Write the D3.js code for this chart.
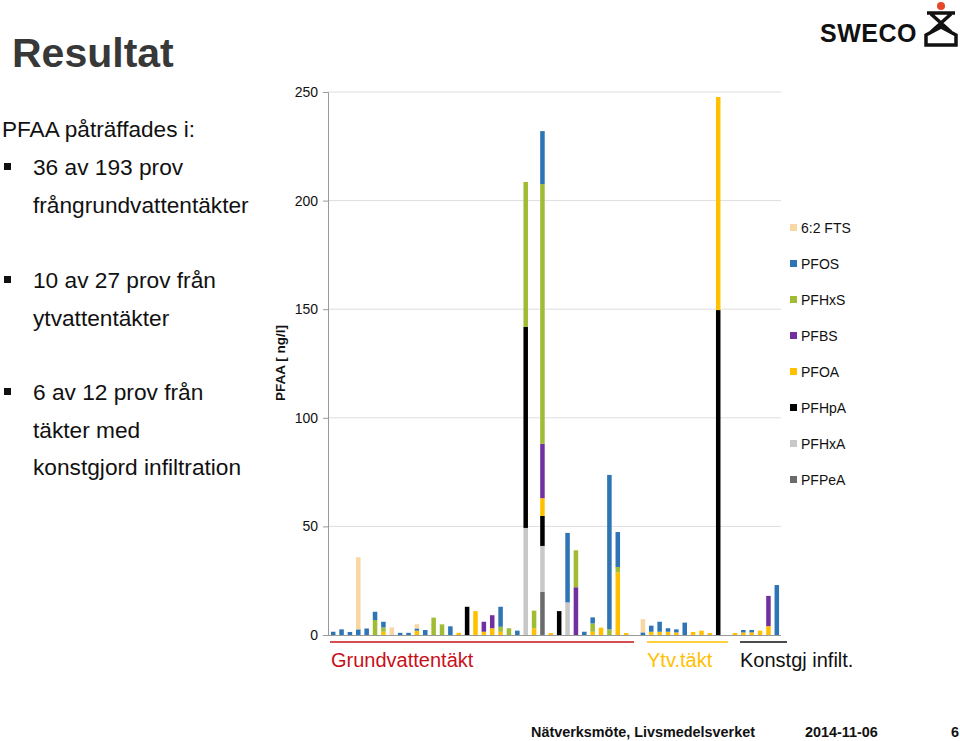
<!DOCTYPE html>
<html><head><meta charset="utf-8">
<script src="https://cdn.jsdelivr.net/npm/d3@7"></script>
<style>body{margin:0;background:#fff}svg{display:block;font-family:"Liberation Sans",Arial,sans-serif}</style>
</head><body>
<svg id="c" width="960" height="741"></svg>
<script>
// ---- data ----
const samples = d3.range(1, 55).map(String);
const seriesNames = ["PFPeA","PFHxA","PFHpA","PFOA","PFBS","PFHxS","PFOS","6:2 FTS"];
const legendOrder = ["6:2 FTS","PFOS","PFHxS","PFBS","PFOA","PFHpA","PFHxA","PFPeA"];
const colors = {"6:2 FTS":"#F9D7A3","PFOS":"#2E75B6","PFHxS":"#A0BC35","PFBS":"#7030A0","PFOA":"#FFC000","PFHpA":"#000000","PFHxA":"#C8C8C8","PFPeA":"#6B6B6B"};
const PFPeA = [0,   0,   0,   0,   0,   0,   0,   0,   0,   0,   0,   0,   0,   0,   0,   0,   0,   0,   0,   0,   0,   0,   0,   0,   0,   19.8,0,   0,   0,   0,   0,   0,   0,   0,   0,   0,  0,   0,   0,   0,   0,   0,   0,   0,   0,   0,   0,   0,  0,   0,   0,   0,   0,   0];
const PFHxA = [0,   0,   0,   0,   0,   0,   0,   0,   0,   0,   0,   0,   0,   0,   0,   0,   0,   0,   0,   0,   0,   0,   0,   49.3,0,   21.2,0,   0,   15,  0,   0,   0,   0,   0,   0,   0,  0,   0,   0,   0,   0,   0,   0,   0,   0,   0,   0,   0,  0,   0,   0,   0,   0,   0];
const PFHpA = [0,   0,   0,   0,   0,   0,   0,   0,   0,   0,   0,   0,   0,   0,   0,   0,   13,  0,   0,   0,   0,   0,   0,   92.5,0,   13.8,0,   11,  0,   0,   0,   0,   0,   0,   0,   0,  0,   0,   0,   0,   0,   0,   0,   0,   0,   0,   149.6,0, 0,   0,   0,   0,   0,   0];
const PFOA  = [0,   0,   0,   0,   0,   0,   1.5, 0,   0,   0,   2,   0,   0,   0,   0,   1,   0,   11,  1.5, 3.1, 1.5, 0,   0,   0,   3.1, 8.2, 0.9, 0,   0,   0,   0,   1.5, 3.4, 0,   28.8,0.9,0,   0,   1.5, 1.5, 1.5, 1.2, 0,   1.4, 2,   0.9, 98.1,0,  0.9, 1.2, 1.2, 2,   4.1, 0];
const PFBS  = [0,   0,   0,   0,   0,   0,   0,   0,   0,   0,   0,   0,   0,   0,   0,   0,   0,   0,   4.6, 6,   0,   0,   0,   0,   0,   25,  0,   0,   0,   22,  0,   0,   0,   0,   0,   0,  0,   0,   0,   0,   0,   0,   0,   0,   0,   0,   0,   0,  0,   0,   0,   0,   13.9,0];
const PFHxS = [0,   0,   0,   0,   0,   6.9, 2,   0,   0,   0,   0,   0,   8,   4.9, 0,   0,   0,   0,   0,   0,   2.3, 3.1, 0,   66.8,8.1, 119.6,0,  0,   0,   17,  0,   3.8, 0,   2.6, 2.5, 0,  0,   0,   0,   0,   0,   0,   0,   0,   0,   0,   0,   0,  0,   0,   0,   0,   0,   0];
const PFOS  = [1.5, 2.6, 1.4, 2.6, 3,   3.8, 2.6, 0,   1,   1,   1,   2.3, 0,   0,   4,   0,   0,   0,   0,   0,   9.2, 0,   2,   0,   0,   24.4,0,   0,   32,  0,   1.5, 2.8, 0,   71.1,16.1,0,  0,   1.2, 2.8, 4.6, 1.6, 1.4, 5.7, 0,   0,   0,   0,   0,  0,   1.1, 1.1, 0,   0,   23];
const FTS62 = [0,   0,   0,   33.2,0,   0,   0,   3.5, 0,   0,   2,   0,   0,   0,   0,   0,   0,   0,   0,   0,   0,   0,   0,   0,   0,   0,   0,   0,   0,   0,   0,   0,   0,   0,   0,   0,  0,   6.1, 0,   0,   0,   0,   0,   0,   0,   0,   0,   0,  0,   0,   0,   0,   0,   0];
const yTicks = [0, 50, 100, 150, 200, 250];

const seriesData = {"PFPeA":PFPeA,"PFHxA":PFHxA,"PFHpA":PFHpA,"PFOA":PFOA,"PFBS":PFBS,"PFHxS":PFHxS,"PFOS":PFOS,"6:2 FTS":FTS62};
const rows = samples.map((s, i) => {
  const r = {sample: s};
  seriesNames.forEach(n => r[n] = seriesData[n][i]);
  return r;
});

const svg = d3.select("#c");

// ---- slide text ----
svg.append("text").attr("x", 12).attr("y", 67).attr("font-size", 41).attr("font-weight", "bold").attr("fill", "#383838").text("Resultat");
svg.append("text").attr("x", 2).attr("y", 137).attr("font-size", 22.6).attr("fill", "#111").text("PFAA påträffades i:");
const bullets = [
  {y: 175, lines: ["36 av 193 prov", "frångrundvattentäkter"]},
  {y: 288, lines: ["10 av 27 prov från", "ytvattentäkter"]},
  {y: 400, lines: ["6 av 12 prov från", "täkter med", "konstgjord infiltration"]}
];
bullets.forEach(b => {
  svg.append("rect").attr("x", 4).attr("y", b.y - 12).attr("width", 7).attr("height", 7).attr("fill", "#111");
  b.lines.forEach((t, j) => {
    svg.append("text").attr("x", 33).attr("y", b.y + j * 37.5).attr("font-size", 22.7).attr("fill", "#111").text(t);
  });
});

// ---- logo ----
svg.append("text").attr("x", 820).attr("y", 42).attr("font-size", 25).attr("font-weight", 900).attr("fill", "#111").attr("letter-spacing", 0.5).text("SWECO");
svg.append("circle").attr("cx", 941).attr("cy", 6).attr("r", 4).attr("fill", "#E8462A");
svg.append("path").attr("d", "M927,13 H955 M931,14 L951,32 M951,14 L931,32 M926,45 V35 L941,27 L956,35 V45 Z")
  .attr("fill", "none").attr("stroke", "#111").attr("stroke-width", 3.5);

// ---- chart ----
const x = d3.scaleBand().domain(samples).range([329, 781]).paddingInner(0.46).paddingOuter(0.23);
const y = d3.scaleLinear().domain([0, 250]).range([635, 92]);

// gridlines
svg.append("g").selectAll("line").data(yTicks.filter(d => d > 0)).join("line")
  .attr("x1", 328).attr("x2", 781).attr("y1", d => y(d)).attr("y2", d => y(d))
  .attr("stroke", "#dedede").attr("stroke-width", 1);

const yAxis = svg.append("g").attr("transform", "translate(328,0)")
  .call(d3.axisLeft(y).tickValues(yTicks).tickSize(5).tickPadding(5));
yAxis.select(".domain").attr("stroke", "#999");
yAxis.selectAll(".tick line").attr("stroke", "#999");
yAxis.selectAll("text").attr("font-size", 14).attr("font-family", "Liberation Sans, Arial, sans-serif").attr("fill", "#111");

const stack = d3.stack().keys(seriesNames)(rows);
svg.append("g").selectAll("g").data(stack).join("g").attr("fill", d => colors[d.key])
  .selectAll("rect").data(d => d).join("rect")
  .attr("x", d => x(d.data.sample)).attr("width", x.bandwidth())
  .attr("y", d => y(d[1])).attr("height", d => Math.max(0, y(d[0]) - y(d[1])));

// x baseline
svg.append("line").attr("x1", 328).attr("x2", 781).attr("y1", y(0) + 0.5).attr("y2", y(0) + 0.5).attr("stroke", "#999");

// y title
svg.append("text").attr("transform", `translate(285,363) rotate(-90)`).attr("text-anchor", "middle")
  .attr("font-size", 13.5).attr("font-weight", "bold").attr("fill", "#111").text("PFAA [ ng/l]");

// legend
const lg = svg.append("g").selectAll("g").data(legendOrder).join("g")
  .attr("transform", (d, i) => `translate(790,${228 + i * 36})`);
lg.append("rect").attr("x", 0).attr("y", -4).attr("width", 7).attr("height", 7).attr("fill", d => colors[d]);
lg.append("text").attr("x", 11).attr("y", 5).attr("font-size", 14).attr("fill", "#111").text(d => d);

// group labels
const groups = [
  {label: "Grundvattentäkt", x1: 330, x2: 634, tx: 331, color: "#C8101A"},
  {label: "Ytv.täkt", x1: 647, x2: 728, tx: 647, color: "#FFC000"},
  {label: "Konstgj infilt.", x1: 740, x2: 787, tx: 740, color: "#111"}
];
groups.forEach(g => {
  svg.append("line").attr("x1", g.x1).attr("x2", g.x2).attr("y1", 642).attr("y2", 642).attr("stroke", g.color).attr("stroke-width", 1.5);
  svg.append("text").attr("x", g.tx).attr("y", 667).attr("font-size", 20).attr("fill", g.color).text(g.label);
});

// footer
svg.append("text").attr("x", 531).attr("y", 737).attr("font-size", 14.4).attr("font-weight", "bold").attr("fill", "#111").text("Nätverksmöte, Livsmedelsverket");
svg.append("text").attr("x", 805).attr("y", 737).attr("font-size", 14.4).attr("font-weight", "bold").attr("fill", "#111").text("2014-11-06");
svg.append("text").attr("x", 951).attr("y", 737).attr("font-size", 14.4).attr("font-weight", "bold").attr("fill", "#111").text("6");
</script>
</body></html>
